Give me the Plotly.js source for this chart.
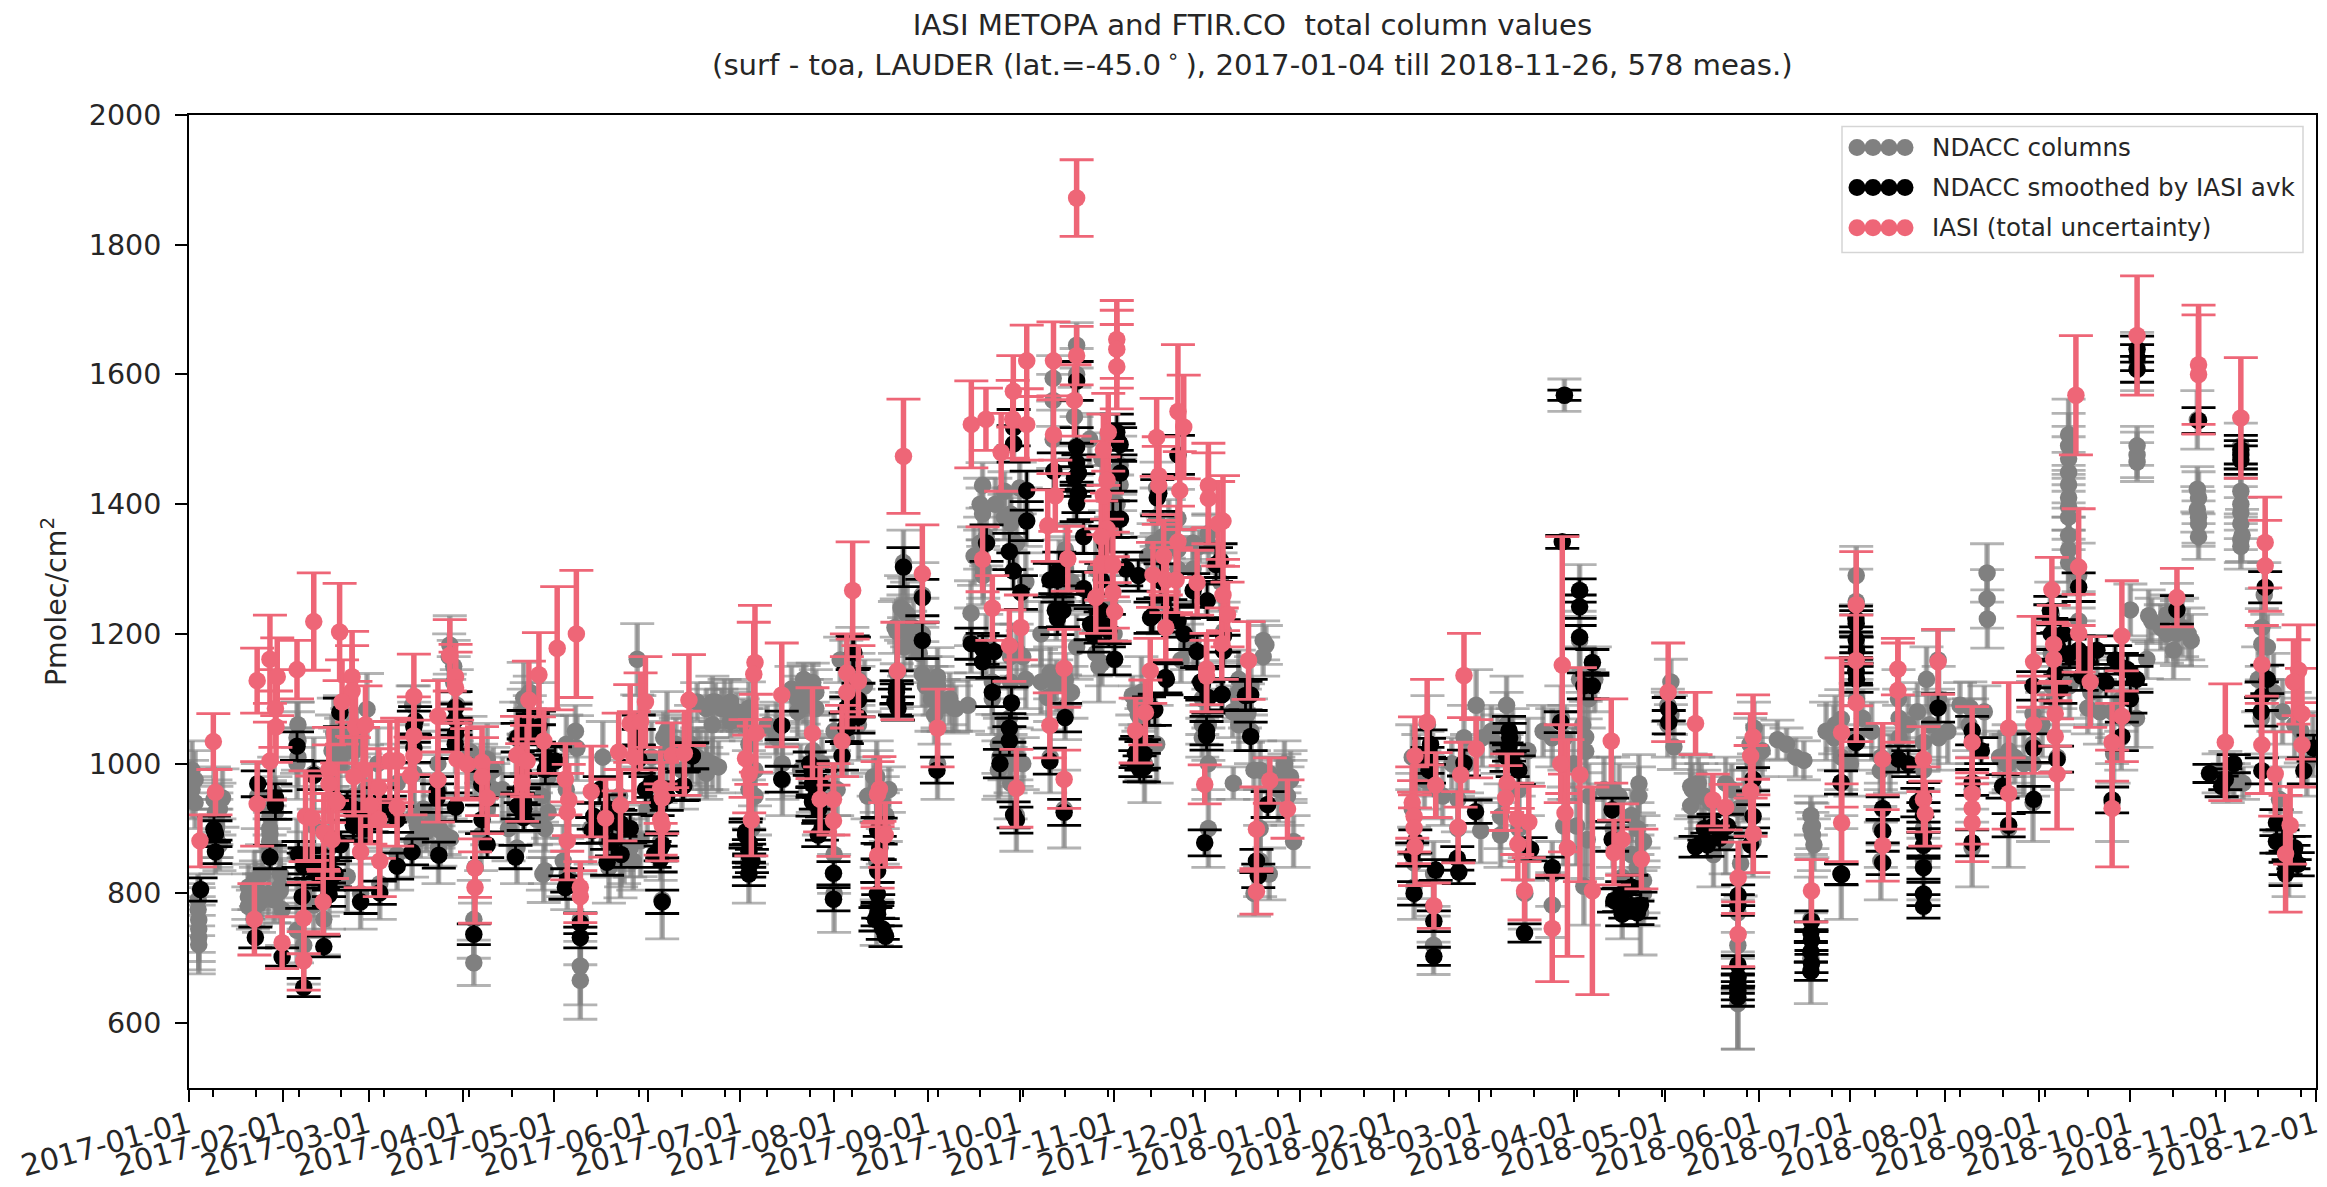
<!DOCTYPE html>
<html>
<head>
<meta charset="utf-8">
<script src="https://cdn.plot.ly/plotly-3.0.1.min.js"></script>
<style>html,body{margin:0;padding:0;background:#fff}</style>
</head>
<body>
<div id="chart" style="width:2327px;height:1187px"></div>
<script>
// Every point: [days since 2017-01-01, column (Pmolec/cm2), uncertainty]
const grayPoints = [
[1,990,45],[1,960,45],[3.2,759,50],[3.2,745,50],[3.2,732,50],[3.2,721,45],[8.2,945,50],[8.7,925,50],[9,905,50],[11,947,45],[8.7,880,50],
[21.5,820,45],[22,800,50],[23,785,45],[24,830,45],[22.6,950,50],[26.6,919,55],[26.6,892,55],[26.6,870,55],[28,955,55],[28.4,925,55],[30,804,50],[30.6,775,55],[30,830,50],
[35.5,1040,55],[35.5,1000,55],[35.5,860,55],[35.5,743,50],[37.7,840,55],[37.7,800,55],[37.7,720,60],[41,985,55],[41,905,55],[41,782,50],[44.3,760,55],[44,820,55],
[46,800,55],[46,870,55],[47.6,1046,55],[47,1020,55],[49.6,1050,55],[49.6,1000,50],[52,826,55],[54.2,1020,60],[54.2,950,60],[56.4,900,55],[56.4,800,55],[58.5,1084,55],[58,960,55],
[62.7,920,55],[62.7,815,55],[62,1000,55],[68.4,970,60],[68.4,860,55],[73.9,1060,60],[73.9,985,60],[73.9,919,55],[73.3,880,55],
[77,930,55],[82,959,55],[82.6,897,55],[82,870,55],[81.8,1000,50],[85.7,1183,45],[88,1090,55],[87.6,1040,55],[92.5,1018,55],[94,840,55],[93.6,760,60],[93.6,693,35],[98,1007,55],[98,930,55],[96,890,55],
[103,960,50],[105,900,50],[107.8,870,55],[107.5,1040,55],[110,1101,55],[111,1040,55],[110,950,55],[115,1070,55],[116.6,831,45],[117.7,1024,50],[118,980,50],[123,850,55],[124,960,55],[124.3,830,55],[127.5,1024,50],[128.6,760,70],[128.6,688,60],[128.6,666,60],
[132,900,55],[136,1010,55],[137.4,880,55],[138,840,55],[141.8,853,60],[141.5,950,55],[147.3,1161,55],[148.4,881,55],[148,1050,55],[150.6,930,55],[152,1010,55],[157.1,1051,60],[157,1020,55],[155,880,60],[155.5,790,60],
[2,975,45],[2,940,40],[3,790,40],[3,775,40],[9,920,45],[9,900,45],[9,885,45],[10,930,40],[10,875,40],[19.5,810,35],[19.5,795,35],[19.5,780,30],[22,810,30],[24,795,35],[26,800,35],[28,790,35],[30,810,40],[21,775,30],[26.5,900,35],[26.5,880,35],[26.5,930,40],[35.8,1035,45],[35.8,1010,45],[35.8,1060,35],[50,1030,40],[52,1045,40],[55,1040,45],[52,1020,40],[48,1010,45],[73.5,1090,30],[74,1060,35],
[75,905,25],[78,895,30],[82,900,30],[84,890,30],[86,885,30],[80,910,30],[76,885,30],[87,1150,40],[87,1125,40],[85.5,1165,35],[94,985,35],[97,975,40],[100,990,35],[100,960,40],[96,1000,30],[111,1095,30],[110,1080,35],[112,1070,35],[112,1110,25],[110,930,35],[114,915,40],[116,950,40],[117,900,35],[118,925,40],[116.3,830,25],[117,835,20],[124,1030,45],[127,1050,40],
[141,875,40],[143,860,45],[145,870,45],[146,850,45],[142,850,40],[156,1040,40],[160,1030,40],[164,1030,40],[167,1010,45],[170,1005,45],[172,1000,40],[174,995,40],[170,985,40],[165,1005,45],[167,1095,30],[170,1085,30],[173,1095,30],[175,1085,30],[178,1090,25],[180,1080,30],[182,1075,25],[178,1065,25],[183,1060,25],[184,960,60],[186,950,60],
[198,1115,35],[200,1100,35],[202,1130,25],[203,1090,40],[206,1110,35],[205,1125,30],[190,1060,30],[193,1045,30],[212,1050,30],[201,990,40],[206,970,40],[210,940,50],[213,960,40],[208,1000,40],[214,1160,35],[216,1150,40],[220,1130,40],[222,1120,40],[223,950,35],[226,950,40],[228,940,40],[230,960,35],[225,980,30],[229,920,40],
[232,1210,40],[234,1240,50],[236,1230,50],[235,1180,45],[238,1210,45],[240,1170,45],[237,1190,45],[242,1120,45],[244,1100,50],[246,1120,45],[248,1090,40],[250,1100,40],[252,1085,35],[245,1075,45],
[162,990,60],[165,1030,60],[168,1000,50],[172,1095,40],[176,1090,40],[172,1060,45],[178,1095,35],[184,1086,40],[184,1030,55],[186,990,55],[185,900,55],[184,850,65],[193,1040,55],[195,1000,55],[195,975,55],[200,1080,40],[202,1106,45],[206,1085,45],
[205,1020,55],[205,985,60],[207,950,60],[212,860,60],[212,800,60],[216,1040,60],[218,1160,50],[220,1100,50],[220,1060,55],[226,980,55],[226,965,55],[228,900,55],[226,850,60],[226,780,60],[232.6,1204,50],[232.6,1140,55],[235,1236,50],[234.8,1310,50],[241,1200,55],[241,1138,50],[241,1260,50],[246,1134,45],[246,1100,50],[246,1000,55],[251,1087,40],[256,1090,40],
[257,1232,50],[257,1190,50],[260.8,1429,35],[260.8,1385,40],[260,1340,40],[261,1290,45],[262,1180,50],[264,1126,50],[264,1100,55],[270,1165,50],[270,1126,50],[269.6,1070,55],[269.6,1040,60],[266.5,1010,60],[271.9,920,55],[270,970,55],
[270,1385,40],[273,1425,40],[275,1380,45],[275,1280,45],[280,1200,50],[280,1126,50],[282.2,1102,50],[283,1010,55],[287.6,930,60],[284,1594,35],[284,1560,40],[284,1500,45],[291.7,1645,35],[291.7,1600,40],[291,1535,45],[291.7,1490,45],[291,1420,50],[288,1300,50],[285,1240,50],[287.9,1087,50],[291.7,1180,50],
[298,1300,50],[301,1340,50],[304,1200,50],[305,1400,45],[306,1460,45],[303,1240,50],[299,1150,55],[313,1110,55],[313,1030,55],[318,1030,60],[314,1000,60],
[318,1425,40],[318,1380,45],[322,1362,45],[325,1378,45],[325,1300,50],[330,1300,50],[335,1338,45],[320,1250,50],[333,1100,55],[335,1060,55],[335,1000,55],[335,900,60],
[339,1280,45],[340,1204,45],[345,1130,45],[345,1110,45],[348,1078,45],[349,1120,45],[349,1050,50],[353.9,1183,30],[343.2,970,25],[352,990,45],[352,900,60],[352,850,55],[358,960,50],[360,1000,35],[362,980,40],[361,950,45],[363,880,40],[355,830,40],[350,800,35],
[260,1400,40],[262,1350,45],[258,1320,45],[261,1300,45],[268,1420,30],[270,1370,40],[272,1340,40],[268,1380,35],[265,1400,40],[272,1175,40],[274,1165,40],[270,1180,35],[275,1130,45],[266,1030,45],[268,1015,40],[270,1000,45],[272,1010,45],[266,990,45],[274,1000,40],[286,1300,45],[288,1330,40],[290,1280,45],[287,1250,40],[283,1140,40],[285,1120,40],[288,1130,40],[290,1110,40],[296,1500,40],[300,1470,40],[303,1420,40],[306,1430,40],[298,1170,35],[300,1155,35],
[317,1340,30],[320,1350,30],[322,1340,35],[325,1330,30],[315,1320,30],[318,1320,35],[332,1335,25],[335,1355,30],[330,1340,25],[310,1105,30],[311,1090,30],[312,1075,25],[328,1180,35],[330,1190,40],[326,1160,35],[333,1040,30],[333,1060,30],[343,1080,40],[345,1060,40],[345,1100,30],[347,1085,30],[353,1190,30],[353,1165,30],[355,985,25],[358,980,25],[360,985,30],[362,975,30],[350,990,30],
[402,1010,50],[402,930,55],[402.6,847,55],[402.6,810,50],[407,1060,45],[407,1000,50],[409,780,55],[409,830,50],[409,720,45],[417,945,50],[417,900,50],[419,1040,50],[423,1090,55],[424.5,897,50],[431,919,50],[431,890,50],[433,1090,45],[433,1060,50],
[437,960,55],[437,900,50],[439,800,55],[440,870,50],[448,782,50],[448,830,50],[451.8,904,60],[452,1568,25],[452,1000,55],[451,1070,50],[456,904,60],[457,1267,40],[457,1190,45],[457,1130,50],[459,1041,55],[459,1019,50],[458.4,811,60],[459.5,883,60],
[404,1000,45],[406,975,45],[410,960,45],[412,950,45],[415,1000,40],[420,1000,45],[425,1040,45],[428,1050,40],[430,1030,45],[435,1040,45],[440,1020,50],[445,1050,40],[448,1040,45],[452,1040,50],[455,1000,55],[458,1060,50],[460,1100,45],[462,1130,50],[460,950,50],[465,960,50],[468,960,50],[470,950,50],[474,920,40],[476,900,40],[478,880,40],[474,860,45],[476,840,50],[478,820,50],[478,800,50],
[468,900,60],[471,825,45],[471,780,50],[476.5,969,45],[476.5,950,45],[477,770,65],[487,1126,35],[488,1026,35],[486,1060,50],[493.5,965,50],[493.5,935,50],[497,950,50],[501,860,50],[505,880,50],
[486,1090,25],[487,1075,30],[494,960,40],[496,970,40],[498,950,40],[500,940,40],[509,930,40],[511,950,40],[505,970,40],[507,960,40],[513,1030,40],[517,1020,40],[525,1030,25],[528,1010,30],[533,900,40],[534,875,40],[533,920,30],[538,1050,45],[541,1060,45],[543,1010,50],[546,1000,50],
[509.9,846,50],[509,770,60],[509,720,70],[509,650,90],[509,630,70],[514.3,1055,40],[514,960,45],[514,880,55],[514,1000,40],[522,1037,30],[530.7,1005,30],[533.5,890,35],[533.5,904,35],[533,760,65],[533,700,70],
[543,1069,45],[540.6,1040,50],[543,830,70],[543,970,50],[547.9,1290,45],[547.9,1250,50],[548,1180,50],[548,1100,50],[548,1040,50],[555.8,989,55],[556.6,930,55],[556,900,60],[556,850,60],[561.8,1100,45],[562,1040,50],[570,1033,45],[570,990,50],[570,945,60],[570,900,60],[570,850,60],[571,1130,50],[575,1100,50],
[550,1070,45],[553,1050,45],[556,1010,40],[559,1000,45],[562,1070,45],[565,1060,45],[568,1080,45],[572,1060,50],[575,1040,50],[578,1050,50],[582,1090,35],[585,1060,40],[590,1080,40],[595,1010,40],[600,1010,40],[603,1000,50],[606,1000,50],[609,1060,50],[612,1120,50],[615,1140,55],[618,1120,50],[625,1110,50],[628,1080,50],[632,1080,40],[635,1070,45],[640,1070,45],
[574.8,1160,45],[585.4,1086,40],[586,1050,50],[586,960,50],[586,870,60],[590.9,1294,45],[590.9,1254,45],[591,1223,45],[598,1000,45],[598,1020,40],[598,900,60],[597,1000,45],[606,1077,50],[606,1030,50],[606,940,60],
[612,1230,50],[612,1170,50],[613,1100,50],[614,1010,50],[617.7,1507,55],[617.7,1449,55],[617.7,1396,50],[617.7,1352,50],[621,1290,50],[621,1220,45],[621,1170,50],[624,1086,40],[627,1120,45],[632.5,1015,45],[632,940,60],[635,1100,50],[635,1040,50],
[617.7,1490,50],[617.7,1470,50],[617.7,1430,50],[617.7,1410,50],[617.7,1380,50],[617.7,1330,50],[617.7,1310,50],[640.2,1490,30],[640.2,1465,30],[660.4,1410,40],[660.4,1380,40],[660.4,1370,35],[660.4,1350,35],[674.3,1420,35],[674.3,1400,40],[674.3,1370,40],[674.3,1345,35],[674.3,1335,35],
[638,1237,40],[640.2,1476,35],[640.2,1620,45],[644,1228,40],[643.4,1161,30],[650,1200,45],[653.3,1228,50],[653.3,1201,50],[652.2,1175,45],[657,1200,40],[660,1423,35],[660,1392,35],[660,1530,45],[669.2,989,30],[672,975,25],[674.3,1490,35],[674.3,1387,40],[674.7,1352,40],[681.2,1210,60],[681.2,1184,55],[681,1070,55],[682,1260,50],
[645,1220,35],[648,1210,35],[650,1230,30],[655,1210,45],[658,1190,40],[667,985,30],[670,970,30],[675,970,25],[680,1130,50],[683,1180,50],[685,1110,60],[688,1080,50],[692,1060,50],
[687,945,50],[689,870,55],[690,850,55],[694,1051,50],[696,1000,50],[698,1030,50]
];
const blackPoints = [
[3.8,806,18],[8.2,899,20],[8.7,892,20],[8.7,864,18],[22.6,969,20],[28.4,947,22],[28.4,936,22],[26.6,856,18],[21.8,732,16],[30.6,702,14],[35.5,1027,22],[41,982,22],[49.6,1079,22],
[37.2,795,18],[46,798,18],[44.3,718,16],[37.7,655,14],[37.7,842,20],[46,825,20],[49.8,875,20],[41,836,20],[54.2,908,20],[54.2,930,20],[56.4,787,18],[62.7,801,18],[68.4,842,20],[73.3,864,20],
[82.1,859,20],[81.5,947,22],[87.6,933,22],[87.6,1087,24],[87.6,1068,24],[87.6,1046,24],[93.6,737,16],[98,875,20],[96.3,914,22],[107.3,856,18],[110,917,20],[115,1057,24],[117.1,991,22],[123.7,809,18],[128.6,732,16],[128.6,754,16],[132.5,897,20],[137.4,848,20],[141.8,908,20],[147.8,1029,24],[155.5,787,18],[155.5,875,20],
[57.4,919,20],[62.9,941,22],[68.4,914,20],[73.9,1057,24],[73.9,1024,22],[81.5,958,22],[155,853,20],[147.8,1051,24],[147.8,1007,22],[117.7,1007,22],[124.3,820,18],[138.5,919,20],[133,919,20],[110,941,20],
[36,860,20],[38,850,20],[42,835,22],[44,830,22],[46,815,20],[48,830,20],[40,845,22],[44,845,20],[52,935,22],[54,905,22],[57,900,20],[60,915,20],[63,925,22],[66,930,20],[74.3,1066,22],[87.5,1030,22],[96.2,968,20],[120.3,1004,22],[108,935,20],[110,930,20],[109,960,20],[110,985,22],[108,1040,22],[110,1060,22],[113,1055,22],[115,1040,20],
[135,960,20],[138,930,22],[141,910,20],[136,900,22],[139,880,22],[142,860,20],[145,900,22],[150,960,20],[152,970,22],[154,940,20],[155,870,20],[153,860,20],[157,950,22],[165.4,1012,20],[162.6,966,22],
[234.8,1303,30],[241,1256,28],[241,1190,28],[218.1,1171,26],[220,1098,26],[220,1072,25],[216.2,1055,24],[214.6,1012,22],[232.6,1098,25],[232.6,1118,25],[194.8,1059,22],[194.8,976,20],[204.9,984,20],[204.9,941,22],[211.8,831,18],[211.8,791,18],[184.1,878,20],[184.1,843,18],[165.3,1012,20],[162.1,965,22],
[183,895,20],[184,865,18],[185,850,18],[184,830,18],[227.3,896,20],[226.2,799,18],[225.6,760,18],[228.9,734,16],[226.5,780,18],[228,745,16],[227,870,18],[204,1000,18],[206,950,20],[207,930,18],[208,900,18],[205,970,18],[232.5,1110,18],[232,1095,20],[233,1085,18],[216,1085,18],[218.5,1171,24],[215.8,1056,22],
[226.3,897,20],[226.3,835,18],[226.3,768,18],[245.8,990,20],[262.1,1340,28],[269.6,1327,28],[270.9,1297,28],[275.3,1421,30],[275.3,1374,30],[273.4,1264,26],[257.1,1185,24],[260.8,1177,24],[264.6,1173,24],[260.8,1157,24],[264,1110,22],[270.3,1094,24],[269.6,1055,22],[269.6,1035,22],[266.5,1000,22],[271.9,913,20],
[291.7,1488,30],[291.7,1464,30],[291.7,1590,30],[292.3,1417,30],[291.7,1401,28],[282.9,1283,26],[285.4,1283,26],[284.7,1236,26],[285.4,1224,25],[287.9,1071,22],[282.9,1004,20],[287.6,925,20],[305.5,1496,28],[304.2,1161,24],[301.1,1212,25],
[325,1476,30],[318.7,1417,28],[316.8,1228,26],[321.2,1130,24],[331.3,1173,25],[332.5,1126,24],[339.4,1106,24],[330,1267,26],[334.4,1051,22],[334.4,1043,22],[333.8,878,20],[348.9,1042,22],[313,1012,22],[311.1,1016,22],[317.4,1083,24],[354.5,937,20],[350.8,850,18],[351.4,827,18],
[299.8,1236,26],[302.3,1205,25],[297.3,1197,25],[299.8,1283,26],[303.6,1377,28],[301.1,1338,28],[322.5,1228,25],[325,1220,25],[337.5,1307,26],[340,1197,25],[335,1102,24],[207.4,968,20],[348.9,1106,24],[311,1000,20],[312.4,992,20],[182.9,890,20],[184.1,858,18],[204.9,968,20],[206.8,890,18],[271,921,20],[287.2,1236,25],[291,1440,28],[292.3,1448,28],[304.9,1511,28],[306.1,1448,28],[306.1,1377,28],
[284.2,1451,28],[271,1493,28],[271,1518,28],[306,1492,26],[296.3,1215,24],[299.6,1210,24],[311.6,1020,22],[313.8,1015,22],[313.8,994,22],[315.5,1081,22],[320.9,1133,24],[316,1225,24],[334.6,1251,26],[333,1122,24],[339.5,1107,24],[347.2,1105,22],[318.2,1410,28],[319.3,1282,26],[339,1313,26],[340,1174,24],[327,1200,24],[286,1300,26],[294,1270,26],[308,1300,26],[312,1290,24],[294,1350,26],
[452,1568,8],[451.3,1342,10],[457,1267,18],[457,1242,18],[457,1195,18],[461.2,1156,20],[461.2,1120,20],[458.4,1120,20],[450.8,1064,16],[407.5,1019,20],[407.5,990,20],[419,1001,20],[422.8,926,18],[433.8,1051,22],[433.8,1026,22],[437,990,22],
[467.7,929,18],[467.7,883,18],[440.9,868,18],[448,840,16],[409.7,836,16],[402.6,800,18],[409.1,757,16],[409.1,703,14],[417.3,833,18],[416.8,854,18],[438.9,739,14],[471,800,18],[471,768,18],[477,782,20],[468.3,789,18],
[486.3,1084,18],[486.3,1064,18],[495.1,872,16],[501,904,18],[505.5,904,18],[514,976,18],[514,919,18],[513.2,875,18],[509.1,797,16],[509,782,16],[509.1,671,14],[509,650,14],[533.2,757,16],[533.2,728,16],[533.2,692,14],[543.1,829,16],[547.9,1216,20],[547.9,1141,20],[547.9,1033,20],[547.9,1191,20],
[433,1010,22],[434,1040,22],[435,1000,20],[407,1005,20],[408,1030,22],[402,860,18],[403,880,18],[498,900,18],[503,885,18],[499,875,18],[470,790,18],[472,780,18],[474,810,18],[476,770,18],[509,660,14],[509,690,14],[509,640,14],[533,740,16],[533,710,16],[533,680,14],[548,1160,20],[548,1130,20],[548,1175,20],
[640.2,1626,20],[640.2,1608,20],[640.2,1639,20],[660.4,1529,20],[674.3,1476,22],[674.3,1484,22],[674.3,1468,22],[621,1272,22],[611.7,1223,22],[611.7,1236,22],[621,1175,22],[623.7,1157,22],[627,1175,22],[547.8,1223,20],[547.8,1144,20],[547.8,1033,20],[542.9,971,18],[542.9,830,16],[561.8,1007,20],[556.6,931,18],[556.6,896,18],[556.6,847,18],[570,949,22],[570,874,20],[570,799,18],
[586,1051,22],[586,971,20],[586,878,20],[574.8,1086,22],[598,905,18],[606.2,1024,22],[606.2,945,20],[613.3,1139,22],[613.9,1007,20],[635.2,1148,22],[635.2,1042,22],[632,944,20],[653.3,1237,22],[669.2,976,16],[682.3,1272,24],[681.2,1104,22],[681.2,989,20],[686,909,20],[689,847,18],[691.6,856,18],[695,989,20],[698.2,1024,20],
[606,1120,22],[612,1200,24],[615,1115,22],[638,1100,22],[640,1130,20],[681,1080,22],[683,1130,22],[565,1000,20],[568,940,22],[589,1020,20],[596,965,18],[688,880,18],[692,870,18],[614,1180,22],[616,1200,22],[618,1170,22],[622,1135,22],[630,1125,22],[633,1160,22],[637,1145,22],[570,890,20],[570,840,18],[570,920,20],[570,780,18],[672,1000,14],[668,965,16],[664,985,14],[689,830,18],[690,870,18],[693,845,18],[686,880,18]
];
const pinkPoints = [
[8,1034,43],[8.7,956,35],[3.6,881,40],[22.4,1128,50],[26.6,1161,68],[29,1134,60],[28.4,1085,60],[35.5,1145,45],[41,1219,75],[28.6,1057,55],[26.6,1004,60],[22.4,938,65],[49.5,1203,75],[53.6,1134,70],[53.6,1112,70],[50.3,1095,65],[54.7,1057,70],[58,1060,60],
[73.9,1104,65],[73.9,1043,60],[73.9,1012,55],[72.8,981,60],[81.8,1073,55],[81.8,975,65],[85.7,1167,55],[87.6,1134,50],[87.6,1117,55],[88.1,1007,60],[91.4,999,55],[96.3,1002,55],[96.3,980,60],[98,947,55],[66,1005,60],[68.4,1005,65],[68.4,933,60],[57.2,991,65],[54.2,980,60],[59.6,936,60],[62.4,963,60],[62.4,914,60],[56.4,864,55],[62.7,850,55],
[46,991,65],[46,969,60],[48.7,941,60],[38.3,919,70],[40.5,916,65],[44.3,894,60],[47,883,60],[44.1,787,50],[37.7,762,55],[37.7,696,45],[30.6,724,40],[21.5,760,55],[94,839,45],[94,809,55],[111.7,1098,60],[115,1137,65],[121,1178,95],[127.3,1200,98],[116.6,1035,50],[107.8,1013,60],[111.1,1004,55],[109.5,971,60],[123.7,976,55],[124.8,944,55],[124.3,925,60],[132.2,957,70],[124.3,881,60],[128.6,809,40],[128.6,795,40],[136.9,916,60],[141.8,936,55],[141.2,1018,60],[145,1062,60],[150,1095,70],[148.4,1065,75],[146.2,1010,70],[155,963,55],[155.5,947,55],[155,914,55],[155.5,905,55],[158.8,1013,50],
[291.7,1872,59],[234.8,1474,88],[218.1,1267,75],[216.2,1140,60],[220,1127,55],[216.2,1110,55],[186,1156,88],[185.6,1138,80],[194.8,1106,80],[164.3,1098,70],[162.8,1016,65],[204.9,1047,70],[186.3,1047,60],[182.9,1008,60],[184.1,984,60],[184.8,913,55],[207.4,945,50],[211.8,945,55],[211.8,912,55],[214.6,1035,55],[226.9,961,50],[226.3,953,50],[228.8,890,50],[226.3,858,50],[232.8,1143,75],[241,1293,75],[246,1055,60],
[257.1,1523,67],[261.9,1531,48],[266.9,1480,60],[270.9,1574,55],[275.3,1621,55],[270.7,1531,60],[275.3,1523,55],[284.1,1621,60],[291.7,1629,45],[291,1560,55],[284.1,1507,60],[284.7,1413,55],[282.2,1367,55],[260.8,1315,50],[264,1240,50],[269.6,1182,55],[273.4,1210,50],[288.8,1316,50],[287.6,1147,60],[282.9,1059,50],[287.6,976,45],[271.9,962,60],
[304.9,1654,60],[304.9,1639,60],[304.9,1612,65],[302.1,1511,60],[300.5,1484,55],[301.7,1437,60],[300.5,1413,60],[301.7,1362,55],[299.8,1350,55],[299.8,1307,55],[303.6,1307,50],[298,1256,55],[303.6,1264,55],[304.2,1234,45],[318,1503,60],[318.7,1444,60],[318.7,1429,60],[325,1543,103],[326.9,1519,80],[325.6,1421,60],
[335,1429,65],[335,1409,70],[339.8,1374,70],[338.2,1370,65],[325,1342,55],[320.3,1320,55],[316.8,1291,50],[321.2,1283,50],[324.4,1283,50],[331.3,1279,50],[339.8,1260,55],[341.3,1230,50],[321,1210,50],[339.4,1185,55],[334.4,1146,55],[334.4,1135,55],[315.9,1143,50],[314.3,1079,50],[311.1,1051,50],[348.2,1159,60],[333.8,968,30],[350.8,899,65],[350.8,803,35],[355.2,974,35],[361,930,45],
[406.9,1064,66],[402.9,1012,60],[419,1136,65],[423,1023,45],[417.9,983,50],[409.7,967,50],[402,940,55],[402.6,919,55],[402.6,901,55],[402.9,872,60],[417.1,902,55],[409.1,781,35],[433.2,970,45],[432.7,947,50],[436.5,915,55],[440.3,910,55],[436.7,876,55],[438.9,804,45],[451.3,1152,198],[450.8,1000,60],[452.2,924,60],[448,746,82],[457.1,983,165],[453,870,167],[461.2,804,160],[471,883,55],[468.3,863,50],[467.4,1035,65],[477.3,853,46],
[486.1,1110,76],[495.1,1062,48],[500.8,944,40],[505,933,35],[514,1041,65],[513.2,1012,65],[513.2,958,70],[514.1,892,60],[509.1,824,55],[509.1,737,50],[533.2,804,48],[543.1,1048,115],[543.1,909,60],[547.9,1245,82],[547.9,1159,70],[547.9,1094,60],
[561.6,1146,40],[561.6,1113,80],[574.8,1157,50],[556.6,1007,55],[556.6,874,55],[570,1007,50],[570,945,50],[570.6,923,50],[586,1033,55],[586,954,55],[586,931,55],[586,909,60],[598,1055,70],[598,954,55],[606.2,1157,70],[606.2,1060,75],
[612.2,1268,50],[612.8,1184,60],[612.8,1161,55],[613.3,1077,50],[613.3,1042,55],[613.9,984,85],[621,1303,90],[621,1201,60],[624.8,1126,70],[635.2,1197,85],[635.2,1073,70],[632,1033,60],[632,931,90],[620.1,1568,92],[640.2,1660,92],[660.4,1615,92],[660.4,1600,92],[674.3,1533,93],[653.3,1256,45],[669.2,1033,90],
[682.3,1341,70],[682.3,1305,70],[681.2,1153,60],[681.2,1029,75],[685.6,984,65],[690.5,905,60],[689,861,90],[694.4,1077,70],[694.4,1029,65],[693.3,1144,70],[691.6,1126,65]
];
const legendLabels = ["NDACC columns", "NDACC smoothed by IASI avk", "IASI (total uncertainty)"];
const monthTicks = ["2017-01-01","2017-02-01","2017-03-01","2017-04-01","2017-05-01","2017-06-01","2017-07-01","2017-08-01","2017-09-01","2017-10-01","2017-11-01","2017-12-01","2018-01-01","2018-02-01","2018-03-01","2018-04-01","2018-05-01","2018-06-01","2018-07-01","2018-08-01","2018-09-01","2018-10-01","2018-11-01","2018-12-01"];
const valueTicks = [600,800,1000,1200,1400,1600,1800,2000];

const FONT = "'DejaVu Sans', sans-serif";
const W = 2327, H = 1187;
const M = {l:189, r:11, t:114.5, b:99};
const GRAY = "#808080", GRAYBAR = "rgba(128,128,128,0.6)", BLACK = "#000000", PINK = "#EE6677";
const TEXT = "#262626";

const toDate = d => new Date(Date.UTC(2017,0,1) + d*86400000).toISOString();

function seriesTraces(pts, name, markerColor, stemColor, capColor) {
  const x = pts.map(p => toDate(p[0]));
  const y = pts.map(p => p[1]);
  const e = pts.map(p => p[2]);
  const hidden = {size:1, opacity:0};
  return [
    {type:"scatter", mode:"markers", x, y, name:name+" stems", showlegend:false, hoverinfo:"skip", marker:hidden,
     error_y:{type:"data", array:e, symmetric:true, visible:true, width:0, thickness:5.5, color:stemColor}},
    {type:"scatter", mode:"markers", x, y, name, showlegend:false, marker:{size:17.5, color:markerColor, line:{width:0}},
     error_y:{type:"data", array:e, symmetric:true, visible:true, width:17, thickness:2.8, color:capColor}}
  ];
}
const traces = [
  ...seriesTraces(grayPoints, legendLabels[0], GRAY, GRAYBAR, GRAYBAR),
  ...seriesTraces(blackPoints, legendLabels[1], BLACK, GRAYBAR, BLACK),
  ...seriesTraces(pinkPoints, legendLabels[2], PINK, PINK, PINK)
];

// legend drawn as four joined dots per row, as in the reference
const fx = v => (v-M.l)/(W-M.l-M.r), fy = v => 1-(v-M.t)/(H-M.t-M.b);
const legendColors = [GRAY, BLACK, PINK];
const legendRowsY = [147, 187.1, 227.3];
const legendDotsX = [1857, 1873, 1889, 1905];
const shapes = [{type:"rect", xref:"paper", yref:"paper", layer:"above",
  x0:fx(1842), x1:fx(2303), y0:fy(252), y1:fy(126),
  line:{color:"#d5d5d5", width:1.5}, fillcolor:"rgba(255,255,255,0.8)"}];
const annotations = [];
legendRowsY.forEach((ry,i) => {
  legendDotsX.forEach(rx => {
    shapes.push({type:"circle", layer:"above", xref:"paper", yref:"paper",
      xsizemode:"pixel", ysizemode:"pixel", xanchor:fx(rx), yanchor:fy(ry),
      x0:-8.5, x1:8.5, y0:-8.5, y1:8.5, fillcolor:legendColors[i], line:{width:0}});
  });
  annotations.push({xref:"paper", yref:"paper", xanchor:"left", yanchor:"middle", showarrow:false,
    x:fx(1931), y:fy(ry), xshift:-1, text:legendLabels[i], font:{family:FONT, size:24.6, color:TEXT}});
});
annotations.push({xref:"paper", yref:"paper", xanchor:"center", yanchor:"middle", showarrow:false,
  x:0.5, y:fy(62),
  text:"(surf - toa, LAUDER (lat.=-45.0\u2009<sup>\u2218</sup>\u2009), 2017-01-04 till 2018-11-26, 578 meas.)",
  font:{family:FONT, size:29.2, color:TEXT}});

const layout = {
  width:W, height:H, autosize:false, margin:M, paper_bgcolor:"#fff", plot_bgcolor:"#fff",
  showlegend:false, hovermode:"closest", shapes, annotations,
  font:{family:FONT, size:29, color:TEXT},
  title:{text:"IASI METOPA and FTIR.CO\u00a0\u00a0total column values", x:0.5, xref:"paper", xanchor:"center",
    y:1-25/H, yref:"container", yanchor:"middle", font:{family:FONT, size:29.2, color:TEXT}},
  xaxis:{type:"date", range:[monthTicks[0], monthTicks[monthTicks.length-1]], tickmode:"array",
    tickvals:monthTicks, ticktext:monthTicks, tickangle:-15, ticks:"outside", ticklen:12, tickwidth:1.8, tickcolor:"#000",
    ticklabelstandoff:-6,
    showline:true, mirror:true, linecolor:"#000", linewidth:2, showgrid:false, zeroline:false,
    tickfont:{family:FONT, size:30, color:TEXT},
    minor:{ticks:"outside", ticklen:7, tickwidth:1.5, tickcolor:"#000", dtick:14*86400000, tick0:"2017-01-09", showgrid:false}},
  yaxis:{range:[500,2000], tickmode:"array", tickvals:valueTicks, ticks:"outside", ticklen:12, tickwidth:1.8, tickcolor:"#000",
    ticklabelstandoff:8,
    showline:true, mirror:true, linecolor:"#000", linewidth:2, showgrid:false, zeroline:false,
    tickfont:{family:FONT, size:28.5, color:TEXT},
    title:{text:"Pmolec/cm<sup>2</sup>", standoff:14, font:{family:FONT, size:28.5, color:TEXT}}}
};
Plotly.newPlot("chart", traces, layout, {displayModeBar:false, responsive:false});
</script>
</body>
</html>
